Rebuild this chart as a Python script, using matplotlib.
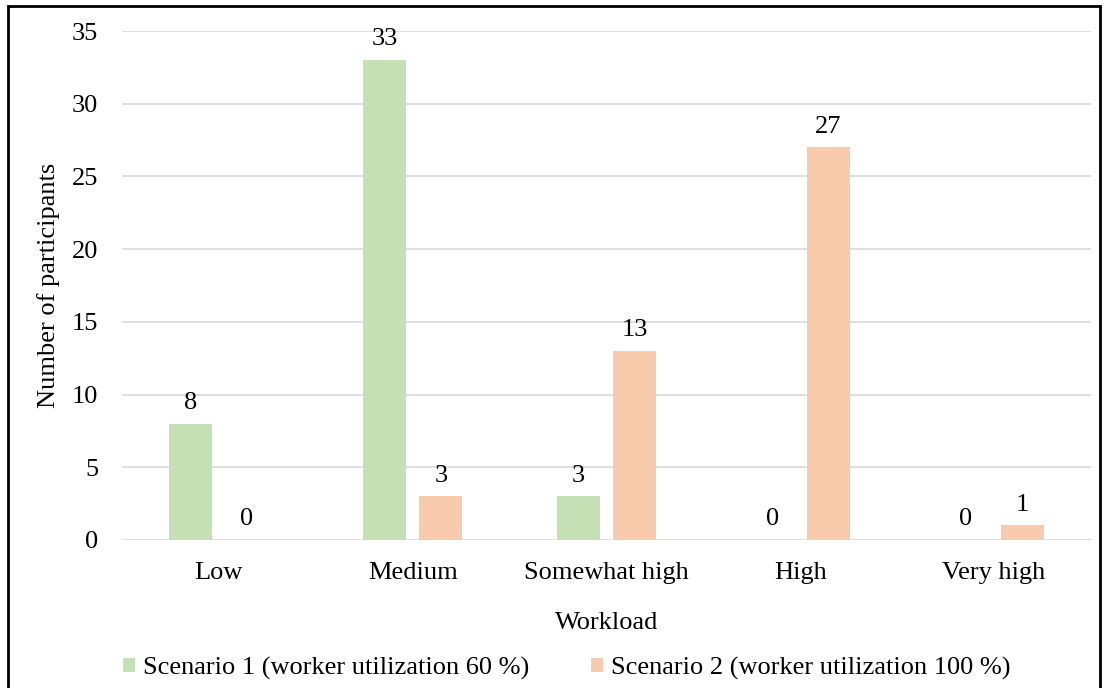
import matplotlib
matplotlib.use("Agg")
import matplotlib.pyplot as plt
from matplotlib.patches import Rectangle
import numpy as np

categories = ["Low", "Medium", "Somewhat high", "High", "Very high"]
scenario1 = [8, 33, 3, 0, 0]
scenario2 = [0, 3, 13, 27, 1]
series_names = ["Scenario 1 (worker utilization 60 %)", "Scenario 2 (worker utilization 100 %)"]
colors = ["#c5e0b4", "#f8cbad"]

plt.rcParams['font.family'] = ['Liberation Serif', 'DejaVu Serif']
FS = 19

fig = plt.figure(figsize=(11.04, 6.88), dpi=100)
ax = fig.add_axes([122/1104, 1-540/688, (1091-122)/1104, (540-31)/688])

x = np.arange(len(categories))
w = 0.222
off = 0.145
b1 = ax.bar(x - off, scenario1, w, color=colors[0], label=series_names[0], zorder=2)
b2 = ax.bar(x + off, scenario2, w, color=colors[1], label=series_names[1], zorder=2)
for bars, vals in ((b1, scenario1), (b2, scenario2)):
    for r, v in zip(bars, vals):
        ax.annotate(str(v), (r.get_x() + r.get_width()/2, v), xytext=(0, 7),
                    textcoords="offset points", ha="center", va="bottom", fontsize=FS)

ax.set_xlim(-0.5, len(categories) - 0.5)
ax.set_ylim(0, 35)
ax.set_yticks(range(0, 36, 5))
ax.set_xticks(x)
ax.set_xticklabels(categories)
ax.tick_params(axis='both', length=0, labelsize=FS)
ax.tick_params(axis='y', pad=17)
ax.tick_params(axis='x', pad=16)
ax.grid(axis='y', color='#d9d9d9', linewidth=1.2, zorder=0)
ax.set_axisbelow(True)
for s in ax.spines.values():
    s.set_visible(False)
ax.set_xlabel("Workload", fontsize=FS, labelpad=20)
ax.set_ylabel("Number of participants", fontsize=FS, labelpad=9)

fig.legend(handles=[b1, b2], labels=series_names, loc='center', bbox_to_anchor=(567/1104, 1-668/688),
           ncol=2, frameon=False, fontsize=FS, handlelength=0.45, handleheight=0.45,
           handletextpad=0.3, columnspacing=2.35)

fig.patches.append(Rectangle((8/1104, -0.05), (1100-8)/1104, 1.05 - 6/688, transform=fig.transFigure,
                             fill=False, edgecolor='black', linewidth=2))

fig.savefig("out.png", dpi=100)
